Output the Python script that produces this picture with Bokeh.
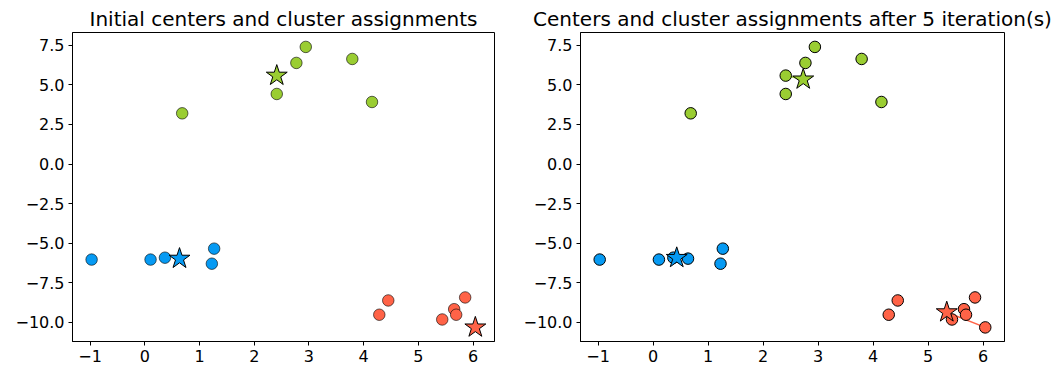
from bokeh.plotting import figure
from bokeh.layouts import row
from bokeh.models import FixedTicker, Range1d
from bokeh.embed import file_html
from bokeh.resources import INLINE

# Data points (x, y) and their cluster (0 = green, 1 = blue, 2 = red)
pt_x = [0.684, 2.412, 2.412, 2.770, 2.942, 3.792, 4.152,
        -0.971, 0.106, 0.369, 0.635, 1.226, 1.268,
        4.285, 4.449, 5.435, 5.653, 5.690, 5.854, 6.040]
pt_y = [3.20, 4.42, 5.58, 6.38, 7.39, 6.63, 3.915,
        -6.03, -6.03, -5.91, -5.97, -6.29, -5.34,
        -9.51, -8.61, -9.81, -9.16, -9.51, -8.42, -10.31]
pt_cluster = [0, 0, 0, 0, 0, 0, 0,
              1, 1, 1, 1, 1, 1,
              2, 2, 2, 2, 2, 2, 2]

# Initial centers are data points (indices into the arrays above)
init_center_idx = [2, 10, 19]
# Centers after 5 iterations
final_cx = [2.73, 0.43, 5.34]
final_cy = [5.34, -5.92, -9.35]

cluster_colors = ["#9ACD32", "#069AF3", "#FF6347"]

x_ticks = [-1, 0, 1, 2, 3, 4, 5, 6]
x_labels = ["\u22121", "0", "1", "2", "3", "4", "5", "6"]
y_ticks = [-10, -7.5, -5, -2.5, 0, 2.5, 5, 7.5]
y_labels = ["\u221210.0", "\u22127.5", "\u22125.0", "\u22122.5", "0.0", "2.5", "5.0", "7.5"]

titles = ["Initial centers and cluster assignments",
          "Centers and cluster assignments after 5 iteration(s)"]

FONT = "DejaVu Sans"


def make_fig(title, border_left, frame_w, border_right):
    p = figure(width=border_left + frame_w + border_right, height=376,
               frame_width=frame_w, frame_height=309,
               min_border_left=border_left, min_border_right=border_right,
               min_border_top=32, min_border_bottom=35,
               x_range=Range1d(-1.32, 6.39), y_range=Range1d(-11.2, 8.3),
               output_backend="svg", toolbar_location=None, title=title)
    p.title.text_font = FONT
    p.title.text_font_size = "20px"
    p.title.text_font_style = "normal"
    p.title.text_color = "black"
    p.title.align = "center"
    p.title.standoff = 4
    p.grid.visible = False
    p.outline_line_color = "black"
    p.outline_line_width = 1
    p.outline_line_alpha = 1
    p.background_fill_color = "white"
    p.border_fill_color = "white"
    for ax in (p.xaxis[0], p.yaxis[0]):
        ax.axis_line_color = "black"
        ax.axis_line_width = 1
        ax.major_tick_line_color = "black"
        ax.major_tick_line_width = 1
        ax.major_tick_out = 4
        ax.major_tick_in = 0
        ax.minor_tick_line_color = None
        ax.major_label_text_font = FONT
        ax.major_label_text_font_size = "16px"
        ax.major_label_text_color = "black"
        ax.major_label_standoff = 4
    p.xaxis[0].ticker = FixedTicker(ticks=x_ticks)
    p.xaxis[0].major_label_overrides = {t: l for t, l in zip(x_ticks, x_labels)}
    p.yaxis[0].ticker = FixedTicker(ticks=y_ticks)
    p.yaxis[0].major_label_overrides = {t: l for t, l in zip(y_ticks, y_labels)}
    return p


# Left: initial centers
p1 = make_fig(titles[0], 72, 422, 26)
for c in range(3):
    xs = [pt_x[i] for i in range(len(pt_x)) if pt_cluster[i] == c and i not in init_center_idx]
    ys = [pt_y[i] for i in range(len(pt_y)) if pt_cluster[i] == c and i not in init_center_idx]
    p1.scatter(xs, ys, marker="circle", size=11.5, fill_color=cluster_colors[c],
               line_color="black", line_alpha=0.6, line_width=1)
for c, idx in enumerate(init_center_idx):
    p1.scatter([pt_x[idx]], [pt_y[idx]], marker="star", size=22,
               fill_color=cluster_colors[c], line_color="black", line_width=1)

# Right: after 5 iterations
p2 = make_fig(titles[1], 58, 424, 57)
for c, idx in enumerate(init_center_idx):
    p2.line([pt_x[idx], final_cx[c]], [pt_y[idx], final_cy[c]],
            line_color=cluster_colors[c], line_width=1.5)
for c in range(3):
    xs = [pt_x[i] for i in range(len(pt_x)) if pt_cluster[i] == c]
    ys = [pt_y[i] for i in range(len(pt_y)) if pt_cluster[i] == c]
    p2.scatter(xs, ys, marker="circle", size=11.5, fill_color=cluster_colors[c],
               line_color="black", line_width=1)
for c in range(3):
    p2.scatter([final_cx[c]], [final_cy[c]], marker="star", size=22,
               fill_color=cluster_colors[c], line_color="black", line_width=1)

layout = row(p1, p2)
open("out.html", "w").write(file_html(layout, INLINE))
